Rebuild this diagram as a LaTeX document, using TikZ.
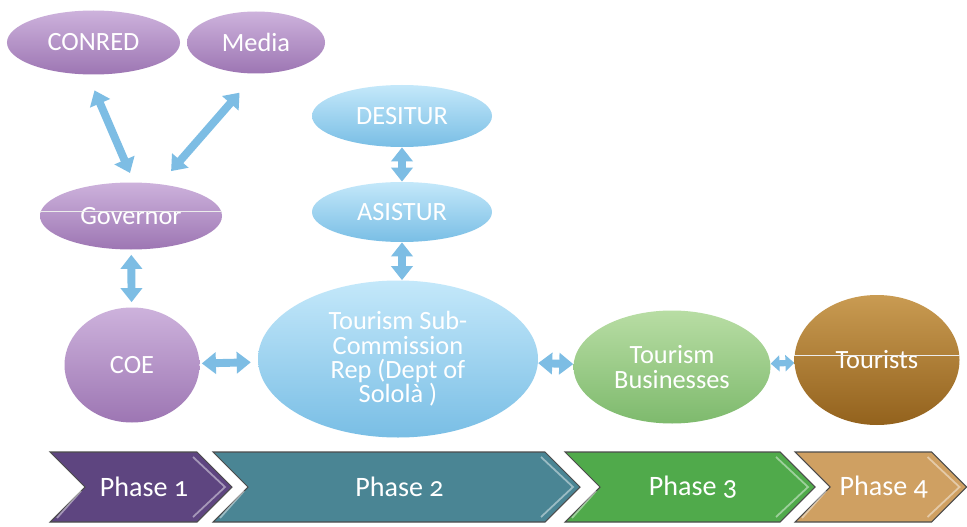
\documentclass[tikz,border=0pt]{standalone}
\usepackage{fontspec}
\setmainfont{Carlito}
\usepackage{tikz}
\usetikzlibrary{shapes,arrows.meta,positioning,calc}

\definecolor{purpleA}{HTML}{CDB2DC}
\definecolor{purpleB}{HTML}{9D76B3}
\definecolor{blueA}{HTML}{C4E8FA}
\definecolor{blueB}{HTML}{79BEE5}
\definecolor{greenA}{HTML}{B8DDA4}
\definecolor{greenB}{HTML}{7EBA6D}
\definecolor{brownA}{HTML}{C99B52}
\definecolor{brownB}{HTML}{93621D}
\definecolor{linkblue}{HTML}{7DBDE4}
\definecolor{phaseA}{HTML}{5E4580}
\definecolor{phaseB}{HTML}{4A8594}
\definecolor{phaseC}{HTML}{50AA4B}
\definecolor{phaseD}{HTML}{CFA062}

\begin{document}
\begin{tikzpicture}[
  blob/.style={ellipse, draw=none, text=white, align=center, inner sep=0pt,
    font=\fontsize{15}{13.8}\selectfont},
  purpleblob/.style={blob, top color=purpleA, bottom color=purpleB},
  blueblob/.style={blob, top color=blueA, bottom color=blueB},
  greenblob/.style={blob, top color=greenA, bottom color=greenB},
  brownblob/.style={blob, top color=brownA, bottom color=brownB},
  link/.style={color=linkblue, line width=4.5pt,
    {Triangle[width=12pt,length=8pt]}-{Triangle[width=12pt,length=8pt]}},
  smalllink/.style={color=linkblue, line width=3.5pt,
    {Triangle[width=9pt,length=5pt]}-{Triangle[width=9pt,length=5pt]}},
  phaselabel/.style={text=white, font=\fontsize{16}{18}\selectfont\addfontfeature{Numbers=OldStyle}}
]
\path[fill=white] (0,0) rectangle (19.34,-10.54);
\useasboundingbox (0,0) rectangle (19.34,-10.54);

% top group
\node[purpleblob, minimum width=3.46cm, minimum height=1.28cm] (conred) at (1.87,-0.85) {CONRED};
\node[purpleblob, minimum width=2.76cm, minimum height=1.24cm] (media) at (5.12,-0.85) {Media};
\node[purpleblob, minimum width=3.64cm, minimum height=1.34cm] (governor) at (2.62,-4.32) {Governor};
\node[purpleblob, minimum width=2.7cm, minimum height=2.3cm] (coe) at (2.64,-7.3) {COE};

\node[blueblob, minimum width=3.6cm, minimum height=1.24cm] (desitur) at (8.04,-2.32) {DESITUR};
\node[blueblob, minimum width=3.6cm, minimum height=1.2cm] (asistur) at (8.04,-4.24) {ASISTUR};
\node[blueblob, minimum width=5.6cm, minimum height=3.14cm] (tsc) at (7.96,-7.18)
  {Tourism Sub-\\Commission\\Rep (Dept of\\Sololà )};

\node[greenblob, minimum width=3.94cm, minimum height=2.26cm] (tb) at (13.44,-7.34) {Tourism\\Businesses};
\node[brownblob, minimum width=3.3cm, minimum height=2.6cm] (tourists) at (17.54,-7.2) {Tourists};

% stray lines
\draw[white!85!gray, line width=0.5pt] ([yshift=0.1cm]governor.west) -- ([yshift=0.1cm]governor.east);
\draw[white!85!gray, line width=0.5pt] ([yshift=0.1cm]tourists.west) -- ([yshift=0.1cm]tourists.east);

% connectors
\draw[link, shorten <=0.34cm, shorten >=0.2cm] (conred.260) -- (governor.85);
\draw[link, shorten <=0.5cm, shorten >=0.34cm] (media.270) -- (governor.48);
\draw[link, shorten <=0.1cm, shorten >=0.1cm] (governor) -- (coe);
\draw[link] (desitur) -- (asistur);
\draw[link] (asistur.south) -- (asistur.south |- tsc.north);
\draw[link, shorten <=0.04cm, shorten >=0.14cm] (coe) -- (tsc);
\draw[link] (tsc) -- (tb);
\draw[smalllink] (tb) -- (tourists);

% phases
\foreach \xa/\xb/\col/\lab/\nm in {1.0/4.64/phaseA/1/p1, 4.26/11.6/phaseB/2/p2,
    11.3/16.3/phaseC/3/p3, 15.9/19.33/phaseD/4/p4} {
  \filldraw[fill=\col, draw=black!70, line width=0.6pt]
    (\xa,-9.04) -- ({\xb-0.7},-9.04) -- (\xb,-9.74) -- ({\xb-0.7},-10.44)
    -- (\xa,-10.44) -- ({\xa+0.7},-9.74) -- cycle;
  \draw[white, opacity=0.45, line width=1pt]
    ({\xb-0.78},-9.14) -- ({\xb-0.14},-9.74) -- ({\xb-0.78},-10.34);
  \draw[white, opacity=0.45, line width=1pt]
    ({\xa+0.62},-9.82) -- ({\xa+0.14},-10.36);
  \node[phaselabel] (\nm) at ({(\xa+\xb)/2+0.06},-9.74) {Phase \lab};
}
\end{tikzpicture}
\end{document}
